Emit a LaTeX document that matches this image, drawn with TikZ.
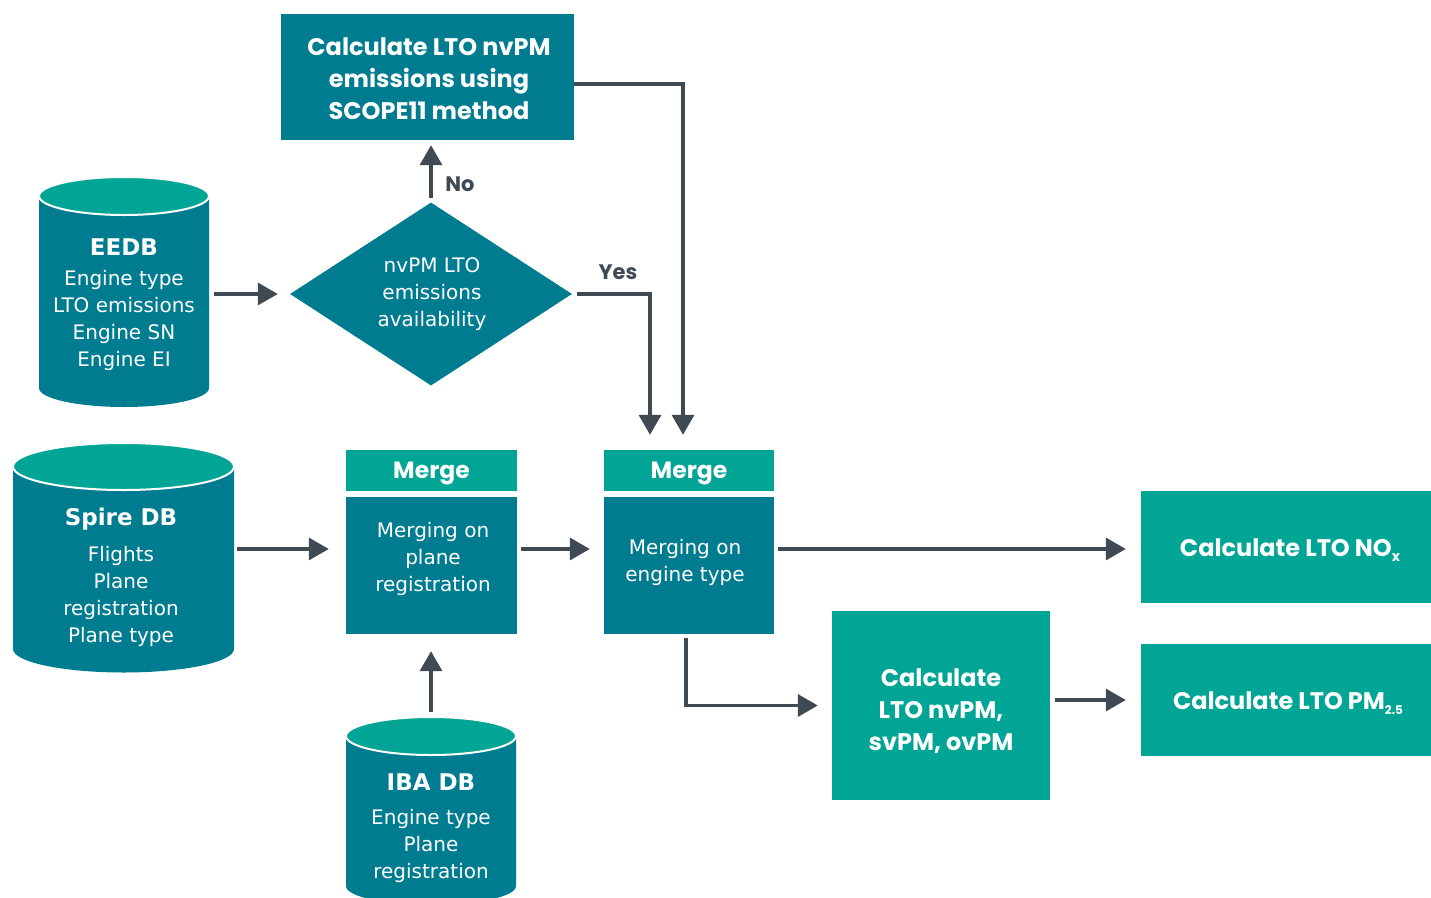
\documentclass[tikz,border=0pt]{standalone}
\usepackage{fontspec}
\setmainfont{DejaVu Sans}
\newfontfamily\gothic{Poppins}
\usetikzlibrary{arrows.meta,shapes.geometric,calc}
\definecolor{dteal}{HTML}{007C91}
\definecolor{lteal}{HTML}{00A595}
\definecolor{agray}{HTML}{3F4A54}
\tikzset{
 darkbox/.style={fill=dteal, text=white, align=center, inner sep=0pt},
 lightbox/.style={fill=lteal, text=white, align=center, inner sep=0pt},
 gtext/.style={font=\gothic\bfseries\fontsize{24}{32}\selectfont},
 btext/.style={font=\fontsize{20}{27}\selectfont},
 ghost/.style={inner sep=0pt},
 txt/.style={text=white, align=center, inner sep=0pt},
 arr/.style={draw=agray, line width=3.5pt, -{Triangle[length=20pt,width=22pt]}},
 lbl/.style={text=agray, inner sep=0pt, font=\gothic\bfseries\fontsize{21}{24}\selectfont},
 drumtop/.style={fill=lteal, draw=white, line width=2pt},
 mergehead/.style={lightbox, minimum height=41pt, text depth=0pt, font=\gothic\bfseries\fontsize{23.5}{24}\selectfont},
}
\begin{document}
\begin{tikzpicture}[x=1pt,y=1pt]
\useasboundingbox (0,0) rectangle (1431,-897);

% cylinders
\fill[dteal] (39,-196) -- (39,-388) arc[start angle=180,end angle=360,x radius=85pt,y radius=19pt] -- (209,-196) -- cycle;
\filldraw[drumtop] (124,-196) ellipse[x radius=85pt, y radius=19pt];
\node[ghost, minimum width=170pt, minimum height=230pt] (eedb) at (124,-292) {};
\node[txt, btext] (eedbt) at (124,-305) {{\bfseries\fontsize{23}{27}\selectfont EEDB}\\[3pt]Engine type\\LTO emissions\\Engine SN\\Engine EI};

\fill[dteal] (13,-466.5) -- (13,-649) arc[start angle=180,end angle=360,x radius=110.5pt,y radius=23.5pt] -- (234,-466.5) -- cycle;
\filldraw[drumtop] (123.5,-466.5) ellipse[x radius=110.5pt, y radius=23.5pt];
\node[ghost, minimum width=221pt, minimum height=229pt] (spire) at (123.5,-557.5) {};
\node[txt, btext] (spiret) at (121,-577) {{\bfseries\fontsize{23}{27}\selectfont Spire DB}\\[9pt]Flights\\Plane\\registration\\Plane type};

\fill[dteal] (346,-736) -- (346,-886) arc[start angle=180,end angle=360,x radius=85pt,y radius=19pt] -- (516,-736) -- cycle;
\filldraw[drumtop] (431,-736) ellipse[x radius=85pt, y radius=19pt];
\node[ghost, minimum width=170pt, minimum height=188pt] (iba) at (431,-811) {};
\node[txt, btext] (ibat) at (431,-828) {{\bfseries\fontsize{23}{27}\selectfont IBA DB}\\[7pt]Engine type\\Plane\\registration};

% boxes
\node[darkbox, minimum width=293pt, minimum height=126pt] (top) at (427.5,-77) {};
\node[txt, gtext] (topt) at (429,-79) {Calculate LTO nvPM\\emissions using\\SCOPE11 method};
\node[diamond, fill=dteal, inner sep=0pt, aspect=1.54, minimum width=282pt, minimum height=183pt] (dia) at (431,-294) {};
\node[txt, btext] (diat) at (432,-294) {nvPM LTO\\emissions\\availability};

\node[mergehead, minimum width=171pt] (m1h) at (431.5,-470.5) {Merge};
\node[darkbox, minimum width=171pt, minimum height=137pt] (m1b) at (431.5,-565.5) {};
\node[txt, btext] (m1t) at (433,-559) {Merging on\\plane\\registration};

\node[mergehead, minimum width=170pt] (m2h) at (689,-470.5) {Merge};
\node[darkbox, minimum width=170pt, minimum height=137pt] (m2b) at (689,-565.5) {};
\node[txt, btext] (m2t) at (685,-562) {Merging on\\engine type};

\node[lightbox, minimum width=290pt, minimum height=112pt] (nox) at (1286,-547) {};
\node[txt, gtext] (noxt) at (1290,-550) {Calculate LTO NO\raisebox{-5pt}{\fontsize{14}{14}\selectfont x}};
\node[lightbox, minimum width=218pt, minimum height=189pt] (calc) at (941,-705.5) {};
\node[txt, gtext] (calct) at (941,-711) {Calculate\\LTO nvPM,\\svPM, ovPM};
\node[lightbox, minimum width=290pt, minimum height=112pt] (pm) at (1286,-700) {};
\node[txt, gtext] (pmt) at (1288,-703) {Calculate LTO PM\raisebox{-5pt}{\fontsize{12}{12}\selectfont 2.5}};

\node[lbl] (no) at (460,-184) {No};
\node[lbl] (yes) at (618,-272) {Yes};

% connectors
\coordinate (rowA) at (0,-549);
\draw[arr, shorten <=5pt, shorten >=12pt] (eedb.east |- dia.west) -- (dia.west);
\draw[arr, shorten <=4pt, shorten >=5pt] (dia.north) -- (dia.north |- top.south);
\draw[arr, shorten <=5pt, shorten >=15pt] (dia.east) -| ([xshift=-39pt]m2h.north);
\draw[arr, shorten >=15pt] ([yshift=-7pt]top.east) -| ([xshift=-6pt]m2h.north);
\draw[arr, shorten <=3pt, shorten >=17pt] (spire.east |- rowA) -- (m1b.west |- rowA);
\draw[arr, shorten <=4pt, shorten >=14pt] (m1b.east |- rowA) -- (m2b.west |- rowA);
\draw[arr, shorten <=4pt, shorten >=15pt] (m2b.east |- rowA) -- (nox.west |- rowA);
\draw[arr, shorten <=4pt, shorten >=14pt] ([xshift=-3pt]m2b.south) |- (calc.west);
\draw[arr, shorten <=5pt, shorten >=15pt] (calc.east |- pm.west) -- (pm.west);
\draw[arr, shorten <=5pt, shorten >=17pt] (iba.north) -- (iba.north |- m1b.south);
\end{tikzpicture}
\end{document}
